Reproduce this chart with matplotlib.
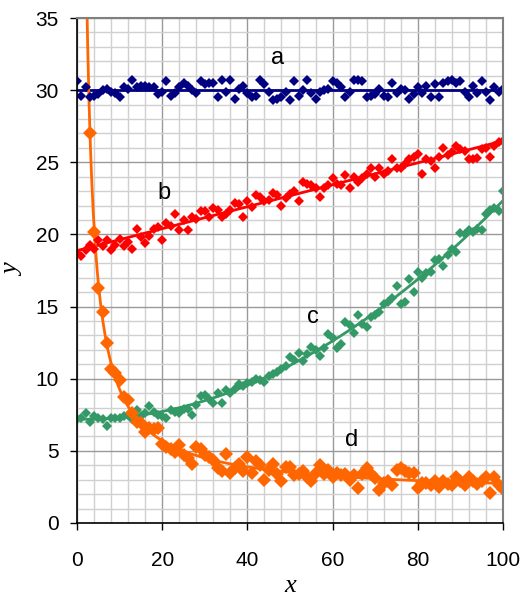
import numpy as np
import matplotlib.pyplot as plt

# måledata, x = 0..100 med steg 1
a_y = [30.6, 29.6, 30.2, 29.5, 29.6, 29.7, 30.0, 30.1, 29.9, 29.8,
       29.5, 30.2, 30.1, 30.7, 30.2, 30.3, 30.3, 30.2, 30.2, 29.7,
       29.9, 30.6, 29.6, 29.8, 30.2, 30.5, 30.3, 30.0, 29.8, 30.6,
       30.4, 30.5, 30.5, 29.5, 30.7, 29.9, 30.7, 29.4, 30.1, 30.3,
       29.8, 29.5, 29.6, 30.7, 30.4, 29.9, 29.3, 29.4, 29.5, 29.9,
       29.3, 30.6, 29.6, 30.0, 30.7, 29.8, 29.4, 29.9, 30.0, 30.1,
       30.6, 30.5, 30.2, 29.5, 29.9, 30.7, 30.7, 30.6, 29.5, 29.6,
       29.7, 30.1, 29.6, 29.5, 30.5, 29.8, 30.1, 30.0, 29.4, 29.7,
       30.2, 29.8, 30.3, 29.5, 30.4, 29.5, 30.5, 30.6, 30.7, 30.5,
       30.6, 29.9, 29.5, 30.3, 29.8, 30.6, 29.9, 29.3, 30.2, 29.9,
       30.1]

b_y = [18.7, 18.5, 18.9, 19.3, 19.0, 19.6, 19.2, 19.6, 18.9, 19.3,
       19.7, 19.2, 19.5, 19.0, 20.4, 19.8, 19.4, 19.9, 20.4, 20.5,
       19.6, 20.8, 20.6, 21.4, 20.3, 21.0, 20.3, 21.2, 21.1, 21.6,
       21.6, 21.2, 21.8, 21.7, 21.2, 21.4, 21.7, 22.2, 22.1, 21.2,
       22.3, 21.9, 22.7, 22.6, 22.3, 22.4, 22.9, 22.7, 22.0, 22.5,
       22.8, 23.0, 22.3, 23.6, 23.5, 23.4, 23.2, 22.6, 23.2, 23.4,
       23.9, 23.5, 23.4, 24.1, 23.2, 24.0, 23.6, 23.9, 24.2, 24.6,
       24.0, 24.6, 24.2, 24.4, 25.2, 24.6, 24.6, 24.9, 25.2, 25.4,
       25.6, 24.2, 25.2, 25.1, 24.6, 25.4, 26.0, 25.5, 25.7, 26.1,
       25.9, 25.8, 25.2, 25.2, 25.3, 25.9, 26.0, 25.4, 26.1, 26.4,
       26.5]

c_y = [7.2, 7.3, 7.6, 7.0, 7.4, 7.3, 7.2, 6.7, 7.3, 7.3,
       7.3, 7.4, 7.5, 7.2, 7.8, 7.4, 7.6, 8.1, 7.7, 7.5,
       7.4, 7.3, 7.8, 7.7, 7.6, 7.9, 7.9, 7.5, 8.2, 8.8,
       8.9, 8.6, 8.3, 9.0, 8.3, 9.2, 9.0, 9.3, 9.6, 9.5,
       9.7, 9.8, 10.0, 9.9, 9.8, 10.2, 10.3, 10.5, 10.7, 10.9,
       11.5, 11.3, 11.8, 11.2, 11.7, 12.2, 12.0, 11.6, 12.1, 13.1,
       12.8, 12.1, 12.4, 13.9, 13.7, 13.2, 14.4, 13.8, 13.6, 14.3,
       14.4, 14.6, 15.2, 15.3, 15.6, 16.4, 15.2, 15.3, 16.9, 16.0,
       17.4, 17.0, 17.3, 17.4, 18.2, 18.3, 17.8, 18.6, 19.0, 18.8,
       20.1, 20.0, 20.3, 20.2, 20.4, 20.3, 21.4, 21.7, 21.8, 21.6,
       23.0]

# d starter ved x = 3
d_y = [27.0, 20.2, 16.3, 14.6, 12.5, 10.7, 10.4,
       9.9, 8.7, 8.5, 7.6, 7.0, 6.9, 6.3, 6.6, 6.5, 6.6,
       5.5, 5.3, 5.1, 4.9, 5.4, 4.7, 4.5, 4.1, 5.3, 5.1,
       4.7, 4.6, 4.4, 3.8, 3.6, 4.8, 3.5, 3.8, 4.1, 3.6,
       4.6, 3.5, 4.3, 4.0, 3.0, 3.7, 4.1, 3.4, 2.9, 3.9,
       3.9, 3.3, 3.4, 3.6, 3.2, 2.9, 3.5, 4.0, 3.4, 3.7,
       3.2, 3.5, 3.3, 3.4, 3.0, 3.3, 2.4, 3.4, 3.8, 3.4,
       3.1, 2.3, 2.75, 2.9, 2.6, 3.7, 3.8, 3.6, 3.5, 3.5,
       2.4, 2.8, 2.75, 2.6, 2.9, 2.5, 2.9, 2.7, 2.65, 3.2,
       2.9, 2.65, 3.2, 2.9, 2.7, 2.9, 3.2, 2.1, 3.2, 2.65,
       2.35]

x_abc = np.arange(len(a_y))
x_d = np.arange(3, 3 + len(d_y))

labels = ['a', 'b', 'c', 'd']
label_pos = [(47, 32.2), (20.5, 22.9), (55.5, 14.3), (64.5, 5.75)]

col_a = '#000080'
col_b = '#ff0000'
col_c = '#339966'
col_d = '#ff6600'

fig = plt.figure(figsize=(5.23, 5.96), dpi=100)
ax = fig.add_axes([77/523, 1 - 523/596, 426/523, 505/596])

# rutenett
ax.set_xticks(np.arange(0, 101, 4), minor=True)
ax.set_yticks(np.arange(0, 36, 1), minor=True)
ax.grid(which='minor', color='#d0d0d0', lw=1.0)
ax.grid(which='major', color='#999999', lw=1.0)
ax.set_axisbelow(True)

# trendlinjer
xs = np.linspace(0, 100, 400)
ax.plot(xs, np.polyval(np.polyfit(x_abc, a_y, 0), xs), color=col_a, lw=2)
ax.plot(xs, np.polyval(np.polyfit(x_abc, b_y, 1), xs), color=col_b, lw=2)
ax.plot(xs, np.polyval(np.polyfit(x_abc, c_y, 3), xs), color=col_c, lw=2)
xd = np.linspace(1.0, 100, 600)
pd_ = np.polyfit(np.log(x_d), np.log(d_y), 2)
ax.plot(xd, np.exp(np.polyval(pd_, np.log(xd))), color=col_d, lw=2)

ax.plot(x_abc, a_y, 'D', color=col_a, ms=5.5, mew=0)
ax.plot(x_abc, b_y, 'D', color=col_b, ms=5.5, mew=0)
ax.plot(x_abc, c_y, 'D', color=col_c, ms=5, mew=0)
ax.plot(x_d, d_y, 'D', color=col_d, ms=7, mew=0)

for lab, (lx, ly) in zip(labels, label_pos):
    ax.text(lx, ly, lab, fontsize=17, family='Liberation Sans', ha='center', va='center')

ax.set_xlim(0, 100)
ax.set_ylim(0, 35)
ax.set_xticks(np.arange(0, 101, 20))
ax.set_yticks(np.arange(0, 36, 5))
ax.tick_params(which='major', direction='out', length=5, width=1, labelsize=15)
ax.tick_params(axis='x', which='major', pad=15)
ax.tick_params(axis='y', which='major', pad=8)
ax.tick_params(which='minor', length=0)
for t in ax.get_xticklabels() + ax.get_yticklabels():
    t.set_family('Liberation Sans')

for s in ['top', 'right']:
    ax.spines[s].set_color('#808080')
    ax.spines[s].set_linewidth(1.5)
for s in ['left', 'bottom']:
    ax.spines[s].set_color('black')
    ax.spines[s].set_linewidth(1.2)

ax.set_xlabel('x', fontsize=19, family='Liberation Serif', style='italic', labelpad=4)
ax.set_ylabel('y', fontsize=19, family='Liberation Serif', style='italic')
ax.yaxis.set_label_coords(-0.125, 0.5)

fig.savefig('out.png', dpi=100)
